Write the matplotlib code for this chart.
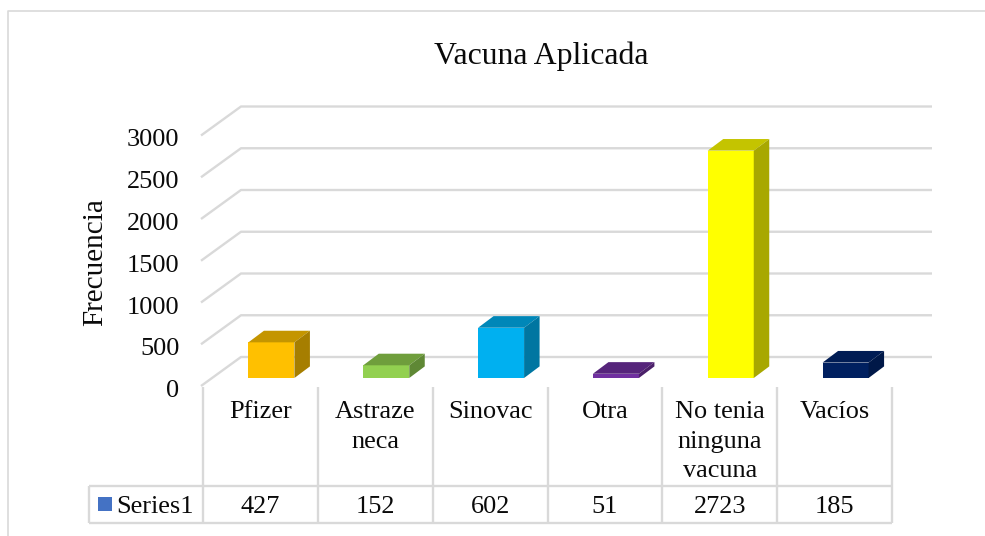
import matplotlib
matplotlib.use("Agg")
import matplotlib.pyplot as plt
from matplotlib.patches import Polygon, Rectangle

plt.rcParams['font.family'] = ['Liberation Serif', 'DejaVu Serif']

categories = ["Pfizer", "Astraze\nneca", "Sinovac", "Otra", "No tenia\nninguna\nvacuna", "Vacíos"]
values = [427, 152, 602, 51, 2723, 185]
y_ticks = [0, 500, 1000, 1500, 2000, 2500, 3000]
series_name = "Series1"
title = "Vacuna Aplicada"
y_label = "Frecuencia"
front_colors = ["#FFC000", "#92D050", "#00B0F0", "#7030A0", "#FFFF00", "#002060"]
top_colors = ["#C49500", "#6F9E3C", "#0087B8", "#56257B", "#C4C400", "#001C54"]
side_colors = ["#A67E00", "#5F8835", "#0076A1", "#4B2069", "#A8A800", "#001848"]
grid_color = "#D9D9D9"
text_color = "#0A0A0A"

W, H = 985, 536
fig = plt.figure(figsize=(W / 100, H / 100), dpi=100, facecolor="white")

# Axes: categories span x px 203..892, values 0..3000 span y px 386..135.5
L, R, B, T = 203, 892, 386, 135.5
ax = fig.add_axes([L / W, 1 - B / H, (R - L) / W, (B - T) / H])
ax.set_xlim(-0.5, 5.5)
ax.set_ylim(0, 3000)
ax.axis("off")

px = 6 / (R - L)           # data units per pixel, x
py = 3000 / (B - T)        # data units per pixel, y

def line(x, y, lw=1.7):
    ax.plot(x, y, color=grid_color, lw=lw, clip_on=False, solid_capstyle="butt", zorder=1)

# wall gridlines with floor/side diagonals
wall_dx, wall_dy = 38 * px, 29 * py
x0 = -0.5
x_end = x0 + (932 - L) * px
for v in y_ticks:
    line([x0 - 2 * px, x0 + wall_dx, x_end], [v, v + wall_dy, v + wall_dy])

# 3D bars
bar_w, off_x, off_y, depth_x, depth_y = 46 * px, 11 * px, 8 * py, 15.5 * px, 11.6 * py
for i, v in enumerate(values):
    xl = i - bar_w / 2 + off_x
    xr = xl + bar_w
    y0 = off_y
    y1 = off_y + v
    ax.add_patch(Polygon([(xl, y0), (xr, y0), (xr, y1), (xl, y1)], fc=front_colors[i], ec="none", clip_on=False, zorder=3))
    ax.add_patch(Polygon([(xl, y1), (xr, y1), (xr + depth_x, y1 + depth_y), (xl + depth_x, y1 + depth_y)], fc=top_colors[i], ec="none", clip_on=False, zorder=3))
    ax.add_patch(Polygon([(xr, y0), (xr + depth_x, y0 + depth_y), (xr + depth_x, y1 + depth_y), (xr, y1)], fc=side_colors[i], ec="none", clip_on=False, zorder=3))

FS = 18.9
# value tick labels
for v in y_ticks:
    ax.text(x0 - 23.5 * px, v - 5 * py, str(v), ha="right", va="center", fontsize=FS, color=text_color, clip_on=False)

# data table
tbl_mid = -100 * py       # y px 486
tbl_bot = -137 * py       # y px 523
tbl_top = -1 * py
for i in range(7):
    line([i - 0.5, i - 0.5], [tbl_top, tbl_bot])
line([x0 - 114 * px, 5.5], [tbl_mid, tbl_mid])
line([x0 - 114 * px, 5.5], [tbl_bot, tbl_bot])
line([x0 - 114 * px, x0 - 114 * px], [tbl_mid, tbl_bot])

for i, (c, v) in enumerate(zip(categories, values)):
    ax.text(i, -15.5 * py, c, ha="center", va="top", fontsize=FS, color=text_color, linespacing=1.44, clip_on=False)
    ax.text(i, -121 * py, str(v), ha="center", va="center", fontsize=FS, color=text_color, clip_on=False)

ax.add_patch(Rectangle((x0 - 105 * px, -125 * py), 14 * px, 14 * py, fc="#4472C4", ec="none", clip_on=False))
ax.text(x0 - 87 * px, -121 * py, series_name, ha="left", va="center", fontsize=FS, color=text_color, clip_on=False)

fig.text(541 / W, 1 - 56 / H, title, ha="center", va="center", fontsize=22.9, color=text_color)
fig.text(95 / W, 1 - 262 / H, y_label, ha="center", va="center", rotation=90, fontsize=21, color=text_color)

# chart outer border
fig.add_artist(plt.Line2D([7.5 / W, 7.5 / W, 985 / W], [0, 1 - 10.5 / H, 1 - 10.5 / H],
                          color=grid_color, lw=1.2, transform=fig.transFigure))

fig.savefig("out.png", dpi=100, facecolor="white")
